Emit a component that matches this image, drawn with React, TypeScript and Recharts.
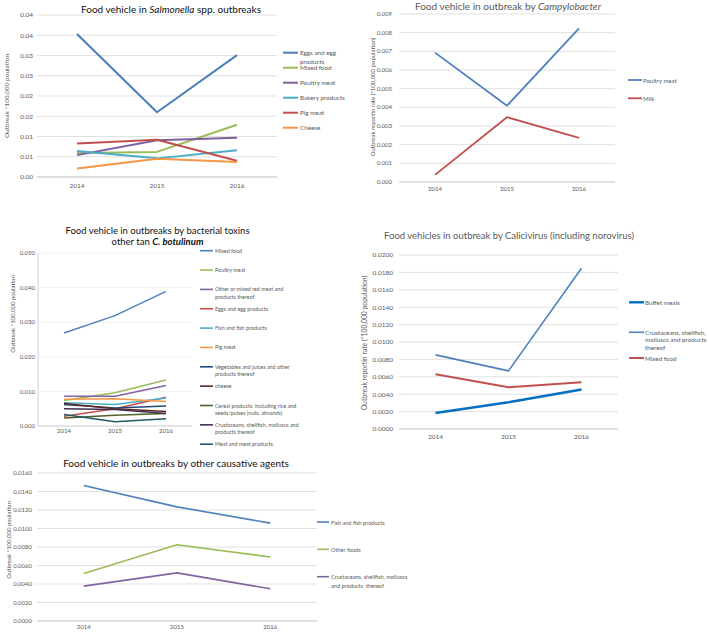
import React from "react";
import { LineChart, Line, XAxis, YAxis, CartesianGrid } from "recharts";

const years = ["2014", "2015", "2016"];

// Salmonella spp.
const salEggs = [0.0353, 0.016, 0.0301];
const salMixed = [0.0059, 0.0062, 0.0129];
const salPoultry = [0.0054, 0.0091, 0.0097];
const salBakery = [0.0064, 0.0046, 0.0066];
const salPig = [0.0083, 0.0092, 0.004];
const salCheese = [0.0021, 0.0045, 0.0037];
const salTicks = [0, 0.005, 0.01, 0.015, 0.02, 0.025, 0.03, 0.035, 0.04];
const salTickLabels = ["0.00", "0.01", "0.01", "0.02", "0.02", "0.03", "0.03", "0.04", "0.04"];

// Campylobacter
const campPoultry = [0.00693, 0.00409, 0.00823];
const campMilk = [0.00038, 0.00347, 0.00237];
const campTicks = [0, 0.001, 0.002, 0.003, 0.004, 0.005, 0.006, 0.007, 0.008, 0.009];
const campTickLabels = ["0.000", "0.001", "0.002", "0.003", "0.004", "0.005", "0.006", "0.007", "0.008", "0.009"];

// Bacterial toxins other than C. botulinum
const toxMixed = [0.0269, 0.0319, 0.0389];
const toxPoultry = [0.0074, 0.0096, 0.0133];
const toxRedMeat = [0.0086, 0.0086, 0.0117];
const toxEggs = [0.0028, 0.005, 0.0083];
const toxFish = [0.0067, 0.0062, 0.0081];
const toxPig = [0.0077, 0.0079, 0.0071];
const toxVeg = [0.0062, 0.0052, 0.0058];
const toxCheese = [0.0065, 0.005, 0.0042];
const toxCereal = [0.0023, 0.0031, 0.0036];
const toxCrust = [0.005, 0.0048, 0.0036];
const toxMeat = [0.0033, 0.0012, 0.0021];
const toxTicks = [0, 0.01, 0.02, 0.03, 0.04, 0.05];
const toxTickLabels = ["0.000", "0.010", "0.020", "0.030", "0.040", "0.050"];

// Calicivirus
const caliBuffet = [0.00184, 0.00307, 0.00454];
const caliCrust = [0.00852, 0.00668, 0.01847];
const caliMixed = [0.0063, 0.0048, 0.00538];
const caliTicks = [0, 0.002, 0.004, 0.006, 0.008, 0.01, 0.012, 0.014, 0.016, 0.018, 0.02];
const caliTickLabels = ["0.0000", "0.0020", "0.0040", "0.0060", "0.0080", "0.0100", "0.0120", "0.0140", "0.0160", "0.0180", "0.0200"];

// Other causative agents
const othFish = [0.01464, 0.01234, 0.01058];
const othOther = [0.00513, 0.00825, 0.00692];
const othCrust = [0.00377, 0.0052, 0.00348];
const othTicks = [0, 0.002, 0.004, 0.006, 0.008, 0.01, 0.012, 0.014, 0.016];
const othTickLabels = ["0.0000", "0.0020", "0.0040", "0.0060", "0.0080", "0.0100", "0.0120", "0.0140", "0.0160"];

const FONT = "Lato, 'Noto Sans', sans-serif";
const GRAY = "#595959";

type Series = { label: string[]; values: number[]; color: string; width: number };

const p1Series: Series[] = [
  { label: ["Eggs and egg", "products"], values: salEggs, color: "#4a7ebb", width: 2 },
  { label: ["Mixed food"], values: salMixed, color: "#9bbb59", width: 2 },
  { label: ["Poultry meat"], values: salPoultry, color: "#7f5fa0", width: 2 },
  { label: ["Bakery products"], values: salBakery, color: "#4bacc6", width: 2 },
  { label: ["Pig meat"], values: salPig, color: "#c0504d", width: 2 },
  { label: ["Cheese"], values: salCheese, color: "#f79646", width: 2 },
];
const p2Series: Series[] = [
  { label: ["Poultry meat"], values: campPoultry, color: "#4f81bd", width: 1.8 },
  { label: ["Milk"], values: campMilk, color: "#c0504d", width: 1.8 },
];
const p3Series: Series[] = [
  { label: ["Mixed food"], values: toxMixed, color: "#4f81bd", width: 1.5 },
  { label: ["Poultry meat"], values: toxPoultry, color: "#9bbb59", width: 1.5 },
  { label: ["Other or mixed red meat and", "products thereof"], values: toxRedMeat, color: "#8064a2", width: 1.5 },
  { label: ["Eggs and egg products"], values: toxEggs, color: "#c0504d", width: 1.5 },
  { label: ["Fish and fish products"], values: toxFish, color: "#4bacc6", width: 1.5 },
  { label: ["Pig meat"], values: toxPig, color: "#f79646", width: 1.5 },
  { label: ["Vegetables and juices and other", "products thereof"], values: toxVeg, color: "#1f497d", width: 1.5 },
  { label: ["cheese"], values: toxCheese, color: "#632523", width: 1.5 },
  { label: ["Cereal products  including rice and", "seeds/pulses (nuts, almonds)"], values: toxCereal, color: "#4f6228", width: 1.5 },
  { label: ["Crustaceans, shellfish, molluscs and", "products thereof"], values: toxCrust, color: "#403151", width: 1.5 },
  { label: ["Meat and meat products"], values: toxMeat, color: "#215967", width: 1.5 },
];
const p4Series: Series[] = [
  { label: ["Buffet meals"], values: caliBuffet, color: "#0070c0", width: 2.4 },
  { label: ["Crustaceans, shellfish,", "molluscs and products", "thereof"], values: caliCrust, color: "#4f81bd", width: 1.6 },
  { label: ["Mixed food"], values: caliMixed, color: "#c0504d", width: 2 },
];
const p5Series: Series[] = [
  { label: ["Fish and fish products"], values: othFish, color: "#4f81bd", width: 1.6 },
  { label: ["Other foods"], values: othOther, color: "#9bbb59", width: 1.6 },
  { label: ["Crustaceans, shellfish, molluscs", "and products  thereof"], values: othCrust, color: "#8064a2", width: 1.6 },
];

type PanelProps = {
  left: number; top: number; width: number; height: number;
  yWidth: number; mTop: number; mRight: number; xHeight: number; pad: number;
  ticks: number[]; tickLabels: string[]; series: Series[];
  grid: string | null; leftAxis: boolean;
  xTick: [number, number]; yTick: [number, number]; fontSize: number;
};

function Panel(p: PanelProps) {
  const rows = years.map((y, i) => {
    const r: Record<string, string | number> = { year: y };
    p.series.forEach((s, k) => { r["s" + k] = s.values[i]; });
    return r;
  });
  const fmt = (v: number) => {
    const idx = p.ticks.findIndex((t) => Math.abs(t - v) < 1e-9);
    return idx >= 0 ? p.tickLabels[idx] : "";
  };
  const tickStyle = { fontSize: p.fontSize, fill: GRAY, fontFamily: FONT };
  return (
    <div style={{ position: "absolute", left: p.left, top: p.top }}>
      <LineChart width={p.width} height={p.height} data={rows}
        margin={{ top: p.mTop, right: p.mRight, left: 0, bottom: 0 }}>
        {p.grid && <CartesianGrid vertical={false} stroke={p.grid} strokeWidth={0.8} />}
        <XAxis dataKey="year" height={p.xHeight} padding={{ left: p.pad, right: p.pad }}
          tickLine={false} axisLine={{ stroke: "#d0d0d0" }} tick={tickStyle}
          tickSize={p.xTick[0]} tickMargin={p.xTick[1]} interval={0} />
        <YAxis width={p.yWidth} domain={[p.ticks[0], p.ticks[p.ticks.length - 1]]} ticks={p.ticks}
          tickFormatter={fmt} tickLine={false} axisLine={p.leftAxis ? { stroke: "#d0d0d0" } : false}
          tick={tickStyle} tickSize={p.yTick[0]} tickMargin={p.yTick[1]} interval={0} />
        {p.series.map((s, k) => (
          <Line key={k} dataKey={"s" + k} type="linear" stroke={s.color} strokeWidth={s.width}
            dot={false} activeDot={false} isAnimationActive={false} strokeLinejoin="round" />
        ))}
      </LineChart>
    </div>
  );
}

type LegendProps = { series: Series[]; x0: number; x1: number; tx: number; ys: number[]; lh: number; fs: number };
function LegendBlock({ series, x0, x1, tx, ys, lh, fs }: LegendProps) {
  return (
    <g>
      {series.map((s, k) => (
        <g key={k}>
          <line x1={x0} x2={x1} y1={ys[k]} y2={ys[k]} stroke={s.color} strokeWidth={Math.max(1.6, s.width)} />
          {s.label.map((t, j) => (
            <text key={j} x={tx} y={ys[k] + j * lh} fontSize={fs} fill={GRAY} fontFamily={FONT}
              dominantBaseline="central" xmlSpace="preserve">{t}</text>
          ))}
        </g>
      ))}
    </g>
  );
}

const step = (start: number, d: number, n: number) => Array.from({ length: n }, (_, i) => start + i * d);

function YLabel({ x, y, text, fs }: { x: number; y: number; text: string; fs: number }) {
  return (
    <text x={x} y={y} fontSize={fs} fill={GRAY} fontFamily={FONT} textAnchor="middle"
      dominantBaseline="central" transform={`rotate(-90 ${x} ${y})`}>{text}</text>
  );
}

export default function App() {
  return (
    <div style={{ position: "absolute", left: 0, top: 0, width: 709, height: 632, background: "#fff", overflow: "hidden" }}>
      <Panel left={0} top={0} width={300} height={195} yWidth={37} mTop={15} mRight={23} xHeight={18} pad={40}
        ticks={salTicks} tickLabels={salTickLabels} series={p1Series} grid="#d9d9d9" leftAxis={false}
        xTick={[3, 3]} yTick={[2, 2]} fontSize={6.5} />
      <Panel left={360} top={0} width={270} height={200} yWidth={39} mTop={14} mRight={15} xHeight={18} pad={36}
        ticks={campTicks} tickLabels={campTickLabels} series={p2Series} grid="#d9d9d9" leftAxis={false}
        xTick={[2, 3]} yTick={[3, 4]} fontSize={6} />
      <Panel left={0} top={240} width={200} height={200} yWidth={38} mTop={13} mRight={8} xHeight={14} pad={26}
        ticks={toxTicks} tickLabels={toxTickLabels} series={p3Series} grid="#efefef" leftAxis={true}
        xTick={[1, 2]} yTick={[1, 2]} fontSize={6} />
      <Panel left={360} top={230} width={270} height={220} yWidth={39} mTop={25} mRight={12} xHeight={21} pad={36.5}
        ticks={caliTicks} tickLabels={caliTickLabels} series={p4Series} grid="#d9d9d9" leftAxis={false}
        xTick={[2, 3]} yTick={[3, 3]} fontSize={6.5} />
      <Panel left={0} top={450} width={330} height={182} yWidth={37} mTop={23} mRight={13} xHeight={11} pad={46.7}
        ticks={othTicks} tickLabels={othTickLabels} series={p5Series} grid="#d9d9d9" leftAxis={false}
        xTick={[1, 2.5]} yTick={[2, 3]} fontSize={6} />

      <svg width={709} height={632} style={{ position: "absolute", left: 0, top: 0, pointerEvents: "none" }}>
        {/* Titles */}
        <text x={171} y={9} fontSize={10} fill="#111" fontFamily={FONT} textAnchor="middle" dominantBaseline="central">
          Food vehicle in <tspan fontStyle="italic">Salmonella</tspan> spp. outbreaks
        </text>
        <text x={508} y={6} fontSize={10} fill={GRAY} fontFamily={FONT} textAnchor="middle" dominantBaseline="central">
          Food vehicle in outbreak by <tspan fontStyle="italic">Campylobacter</tspan>
        </text>
        <text x={157.5} y={230} fontSize={9.5} fill="#111" fontFamily={FONT} textAnchor="middle" dominantBaseline="central">
          Food vehicle in outbreaks by bacterial toxins
        </text>
        <text x={157.5} y={241} fontSize={9.5} fill="#111" fontFamily={FONT} textAnchor="middle" dominantBaseline="central">
          other tan <tspan fontStyle="italic" fontWeight="bold">C. botulinum</tspan>
        </text>
        <text x={509} y={235} fontSize={9.5} fill={GRAY} fontFamily={FONT} textAnchor="middle" dominantBaseline="central">
          Food vehicles in outbreak by Calicivirus (including norovirus)
        </text>
        <text x={176} y={463} fontSize={10} fill="#111" fontFamily={FONT} textAnchor="middle" dominantBaseline="central">
          Food vehicle in outbreaks by other causative agents
        </text>

        {/* Y labels */}
        <YLabel x={6} y={96} text="Outbreak *100,000 poulation" fs={6.5} />
        <YLabel x={372} y={97} text="Outbreak reportin rate (*100,000 population)" fs={6} />
        <YLabel x={12} y={314} text="Outbreak *100,000 poulation" fs={6} />
        <YLabel x={364} y={343} text="Outbreak reportin rate (*100,000 population)" fs={6.8} />
        <YLabel x={8} y={540} text="Outbreak *100,000 poulation" fs={6} />

        {/* Legends */}
        <LegendBlock series={p1Series} x0={283} x1={298} tx={300} ys={step(52.7, 15, 6)} lh={8.3} fs={6.3} />
        <LegendBlock series={p2Series} x0={628} x1={642} tx={643} ys={[80, 98.3]} lh={8} fs={6} />
        <LegendBlock series={p3Series} x0={200} x1={213} tx={215} ys={step(250.7, 19.35, 11)} lh={7.2} fs={5.4} />
        <LegendBlock series={p4Series} x0={629} x1={644} tx={645} ys={[302.3, 332.3, 358]} lh={7.5} fs={6.3} />
        <LegendBlock series={p5Series} x0={317} x1={329} tx={331} ys={[522, 549.3, 576.7]} lh={8.3} fs={5.6} />
      </svg>
    </div>
  );
}
